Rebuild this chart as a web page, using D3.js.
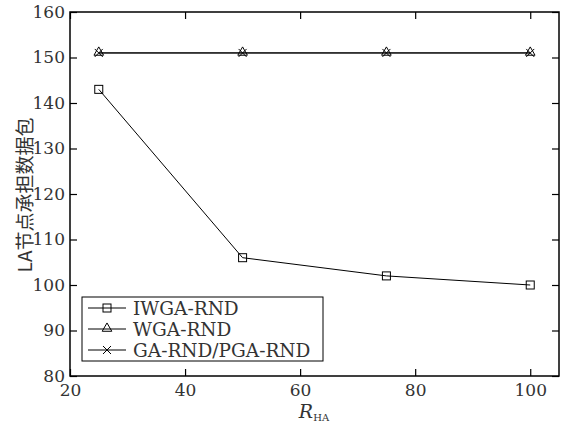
<!DOCTYPE html>
<html>
<head>
<meta charset="utf-8">
<script src="https://cdn.jsdelivr.net/npm/d3@7"></script>
<style>
body{margin:0;background:#fff;}
.serif{font-family:"DejaVu Serif","Liberation Serif",serif;}
</style>
</head>
<body>
<div id="chart"></div>
<script>
// data
const xValues = [25, 50, 75, 100]
const iwga = [143, 106, 102, 100]
const wga = [151, 151, 151, 151]
const gaPga = [151, 151, 151, 151]
const xTicks = [20, 40, 60, 80, 100]
const yTicks = [80, 90, 100, 110, 120, 130, 140, 150, 160]
const seriesNames = ['IWGA-RND', 'WGA-RND', 'GA-RND/PGA-RND']
const markers = ['square', 'triangle', 'cross']

var width = 570, height = 429
var margin = {left: 70, top: 12, right: 11, bottom: 53}
var iw = width - margin.left - margin.right
var ih = height - margin.top - margin.bottom

var svg = d3.select('#chart').append('svg')
  .attr('width', width).attr('height', height)
var g = svg.append('g').attr('transform', 'translate(' + margin.left + ',' + margin.top + ')')

var x = d3.scaleLinear().domain([20, 105]).range([0, iw])
var y = d3.scaleLinear().domain([80, 160]).range([ih, 0])

// ticks on all four sides, pointing inward
function styleAxis(sel){
  sel.attr('font-family', null).attr('font-size', null)
  sel.select('.domain').remove()
  sel.selectAll('line').attr('stroke', '#000').attr('stroke-width', 1.2)
  sel.selectAll('text').attr('class', 'serif').style('font-size', '17px').attr('fill', '#333')
}
g.append('g').attr('transform', 'translate(0,' + ih + ')')
  .call(d3.axisBottom(x).tickValues(xTicks).tickSizeInner(-7).tickSizeOuter(0).tickPadding(8))
  .call(styleAxis)
g.append('g')
  .call(d3.axisTop(x).tickValues(xTicks).tickSizeInner(-7).tickSizeOuter(0).tickFormat(''))
  .call(styleAxis)
g.append('g')
  .call(d3.axisLeft(y).tickValues(yTicks).tickSizeInner(-7).tickSizeOuter(0).tickPadding(5))
  .call(styleAxis)
g.append('g').attr('transform', 'translate(' + iw + ',0)')
  .call(d3.axisRight(y).tickValues(yTicks).tickSizeInner(-7).tickSizeOuter(0).tickFormat(''))
  .call(styleAxis)

g.append('rect').attr('width', iw).attr('height', ih)
  .attr('fill', 'none').attr('stroke', '#000').attr('stroke-width', 1.5)

var line = d3.line().x((d, i) => x(xValues[i])).y(d => y(d))

function drawMarker(sel, type, cx, cy){
  if (type == 'square') {
    sel.append('rect').attr('x', cx - 4).attr('y', cy - 4).attr('width', 8).attr('height', 8)
      .attr('fill', 'none').attr('stroke', '#000').attr('stroke-width', 1)
  } else if (type == 'triangle') {
    sel.append('path').attr('d', d3.symbol().type(d3.symbolTriangle).size(40)())
      .attr('transform', 'translate(' + cx + ',' + (cy - 0.5) + ')')
      .attr('fill', 'none').attr('stroke', '#000').attr('stroke-width', 1)
  } else {
    sel.append('path').attr('d', 'M-4,-4L4,4M-4,4L4,-4')
      .attr('transform', 'translate(' + cx + ',' + cy + ')')
      .attr('fill', 'none').attr('stroke', '#000').attr('stroke-width', 1)
  }
}

var allSeries = [iwga, wga, gaPga]
allSeries.forEach(function(s, k){
  g.append('path').datum(s).attr('d', line)
    .attr('fill', 'none').attr('stroke', '#000').attr('stroke-width', 1)
  s.forEach(function(v, i){ drawMarker(g, markers[k], x(xValues[i]), y(v)) })
})

// legend
var lg = svg.append('g').attr('transform', 'translate(82,297)')
lg.append('rect').attr('width', 241).attr('height', 64)
  .attr('fill', '#fff').attr('stroke', '#000').attr('stroke-width', 1)
seriesNames.forEach(function(name, k){
  var ly = 11 + k * 21
  lg.append('line').attr('x1', 6).attr('x2', 44).attr('y1', ly).attr('y2', ly)
    .attr('stroke', '#000').attr('stroke-width', 1)
  drawMarker(lg, markers[k], 25, ly)
  lg.append('text').attr('x', 51).attr('y', ly + 7).attr('class', 'serif')
    .style('font-size', '18.5px').attr('fill', '#333').text(name)
})

// axis titles
svg.append('text')
  .attr('transform', 'translate(32,195) rotate(-90)')
  .attr('text-anchor', 'middle')
  .style('font-family', '"Noto Sans CJK SC", serif').style('font-size', '19px').attr('fill', '#333')
  .text('LA节点承担数据包')

var xl = svg.append('text')
  .attr('x', 314).attr('y', 418).attr('text-anchor', 'middle')
  .attr('class', 'serif').attr('fill', '#333')
xl.append('tspan').style('font-size', '19px').style('font-style', 'italic').text('R')
xl.append('tspan').style('font-size', '10px').attr('dy', 3).text('HA')
</script>
</body>
</html>
